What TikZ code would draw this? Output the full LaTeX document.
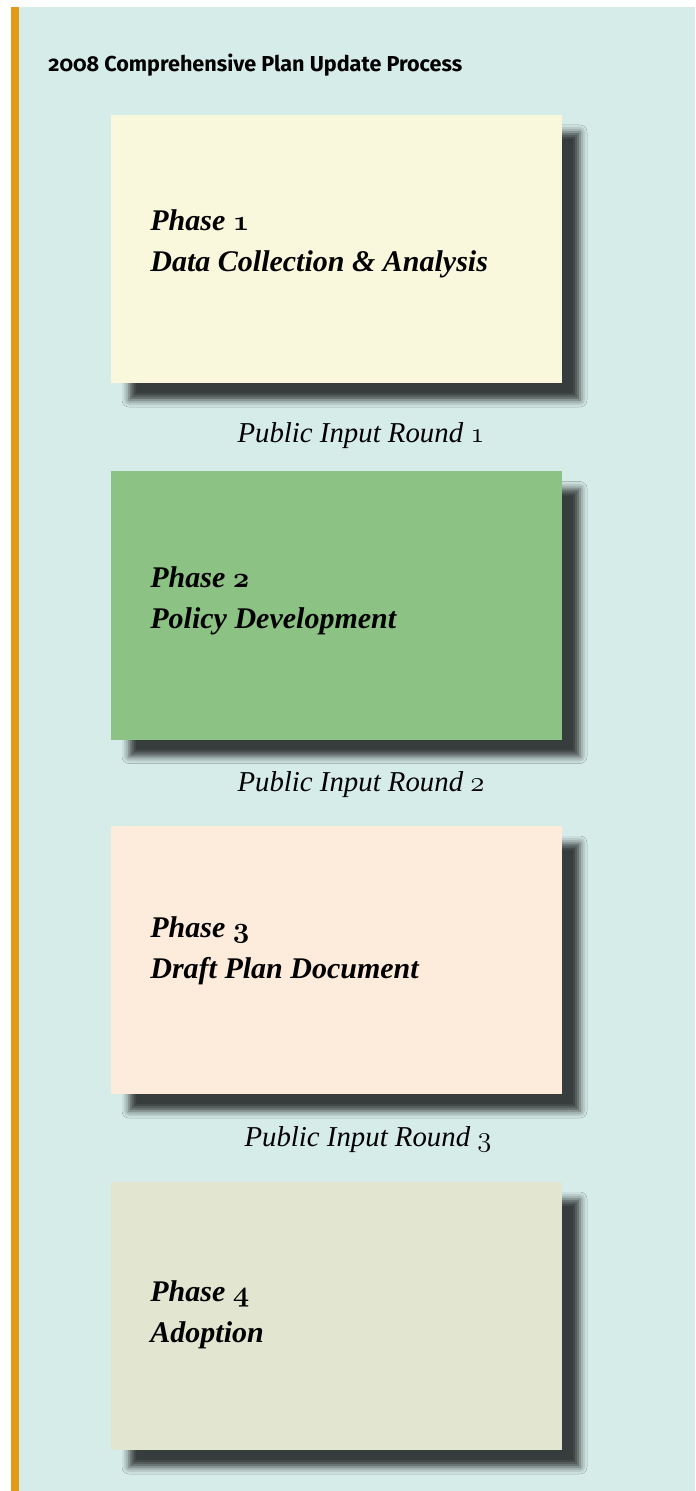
\documentclass[tikz,border=0pt]{standalone}
\usepackage{fontspec}
\usetikzlibrary{positioning,shadows.blur}
\newfontfamily\titlefont{Fira Sans}[Numbers=OldStyle]
\newfontfamily\phasefont{Liberation Serif}
\definecolor{panelbg}{HTML}{D6ECE9}
\definecolor{barorange}{HTML}{E39B17}
\definecolor{phaseyellow}{HTML}{FAF8DC}
\definecolor{phasegreen}{HTML}{8CC283}
\definecolor{phasepeach}{HTML}{FDEBDB}
\definecolor{phasekhaki}{HTML}{E2E5CF}
\newcommand\osnum[1]{{\usefont{OML}{cmm}{b}{it}#1}}
\newcommand\osnumit[1]{{\usefont{OML}{cmm}{m}{it}#1}}

\begin{document}
\begin{tikzpicture}[x=0.5pt, y=-0.5pt,
    phasebox/.style={draw=none, minimum width=225.5pt, minimum height=134pt, inner sep=0pt,
        blur shadow={shadow xshift=9pt, shadow yshift=-8.5pt, shadow blur radius=3.5pt, shadow opacity=74}},
    phasetext/.style={anchor=west, align=left, inner sep=0pt, font=\phasefont\fontsize{15}{20.5}\selectfont\bfseries\itshape},
    roundtext/.style={inner sep=0pt, font=\phasefont\fontsize{14.4}{16}\selectfont\itshape}]

    % page and panel
    \useasboundingbox (0,0) rectangle (695,1491);
    \fill[white] (0,0) rectangle (695,1491);
    \fill[panelbg] (19,7) rectangle (695,1491);
    \fill[barorange] (11,7) rectangle (19,1491);

    % title
    \node[anchor=base west, inner sep=0pt, font=\titlefont\fontsize{10.8}{13}\selectfont\bfseries\addfontfeatures{Numbers=OldStyle}] (title) at (48,72)
        {2008 Comprehensive Plan Update Process};

    % phase boxes
    \node[phasebox, fill=phaseyellow] (phase1) at (336.5,249) {};
    \node[phasebox, fill=phasegreen] (phase2) at (336.5,605.5) {};
    \node[phasebox, fill=phasepeach] (phase3) at (336.5,960) {};
    \node[phasebox, fill=phasekhaki] (phase4) at (336.5,1316) {};

    % phase labels
    \node[phasetext] (phase1text) at (150,244) {Phase \osnum{1}\\Data Collection \& Analysis};
    \node[phasetext] (phase2text) at (150,601) {Phase \osnum{2}\\Policy Development};
    \node[phasetext] (phase3text) at (150,951) {Phase \osnum{3}\\Draft Plan Document};
    \node[phasetext] (phase4text) at (150,1314.5) {Phase \osnum{4}\\Adoption};

    % public input rounds
    \node[roundtext] (round1) at (361,436) {Public Input Round \osnumit{1}};
    \node[roundtext] (round2) at (361,785) {Public Input Round \osnumit{2}};
    \node[roundtext] (round3) at (368,1140) {Public Input Round \osnumit{3}};

\end{tikzpicture}
\end{document}
